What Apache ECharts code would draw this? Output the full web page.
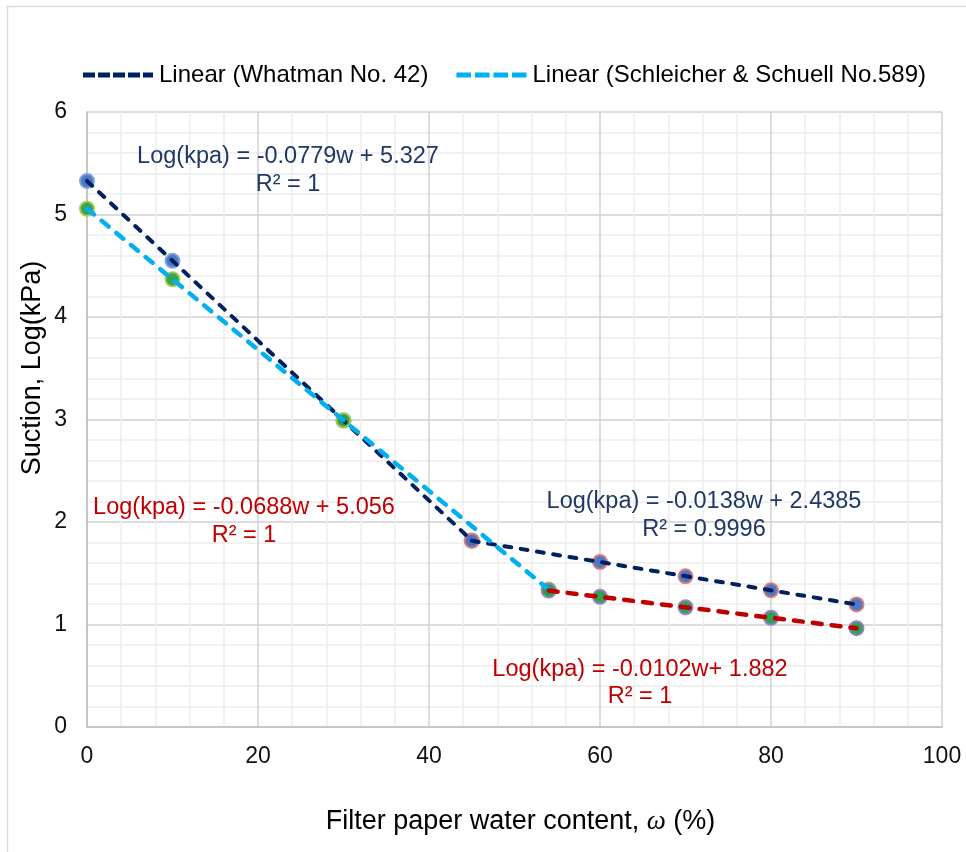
<!DOCTYPE html>
<html>
<head>
<meta charset="utf-8">
<script src="https://cdn.jsdelivr.net/npm/echarts@6/dist/echarts.min.js"></script>
<style>
  html, body { margin: 0; padding: 0; background: #fff; }
  #chart { width: 966px; height: 852px; }
</style>
</head>
<body>
<div id="chart"></div>
<script>
// Filter paper water content (%) and measured suction, log(kPa)
const whatmanDryW = [0, 10, 30, 45];
const whatmanDryS = [5.327, 4.548, 2.99, 1.82];
const whatmanWetW = [45, 60, 70, 80, 90];
const whatmanWetS = [1.817, 1.61, 1.47, 1.334, 1.196];

const schleicherDryW = [0, 10, 30, 54];
const schleicherDryS = [5.056, 4.368, 2.992, 1.341];
const schleicherWetW = [54, 60, 70, 80, 90];
const schleicherWetS = [1.331, 1.27, 1.168, 1.066, 0.964];

const xTicks = [0, 20, 40, 60, 80, 100];
const yTicks = [0, 1, 2, 3, 4, 5, 6];

const legendNames = ['Linear (Whatman No. 42)', 'Linear (Schleicher & Schuell No.589)'];
const yTitle = 'Suction, Log(kPa)';

const equations = [
  { text: 'Log(kpa) = -0.0779w + 5.327', r2: 'R² = 1', color: '#1F3864' },
  { text: 'Log(kpa) = -0.0688w + 5.056', r2: 'R² = 1', color: '#C00000' },
  { text: 'Log(kpa) = -0.0138w + 2.4385', r2: 'R² = 0.9996', color: '#1F3864' },
  { text: 'Log(kpa) = -0.0102w+ 1.882', r2: 'R² = 1', color: '#C00000' }
];

function pairs(xs, ys) { return xs.map((x, i) => [x, ys[i]]); }

// least-squares linear trendline over a segment, drawn between its end points
function trend(xs, ys) {
  const n = xs.length;
  const mx = xs.reduce((a, b) => a + b, 0) / n;
  const my = ys.reduce((a, b) => a + b, 0) / n;
  let sxy = 0, sxx = 0;
  for (let i = 0; i < n; i++) { sxy += (xs[i] - mx) * (ys[i] - my); sxx += (xs[i] - mx) ** 2; }
  const a = sxy / sxx, b = my - a * mx;
  const x0 = Math.min(...xs), x1 = Math.max(...xs);
  return [[x0, a * x0 + b], [x1, a * x1 + b]];
}

const FONT = 'Liberation Sans, Arial, sans-serif';

function trendSeries(name, xs, ys, color, width, dash, z) {
  return {
    name: name, type: 'line', data: trend(xs, ys), symbol: 'none', z: z,
    lineStyle: { color: color, width: width, type: dash, cap: 'round' },
    itemStyle: { color: color },
    emphasis: { disabled: true }, silent: true, animation: false
  };
}

function pointSeries(name, xs, ys, fill, border, z) {
  return {
    name: name, type: 'scatter', data: pairs(xs, ys), symbol: 'circle', symbolSize: 14, z: z,
    itemStyle: { color: fill, borderColor: border, borderWidth: 2, opacity: 0.95 },
    emphasis: { disabled: true }, silent: true, animation: false
  };
}

// dashed legend keys
const navyKey = 'path://M0,0H12V5H0Z M15,0H27V5H15Z M30,0H42V5H30Z M45,0H57V5H45Z M60,0H70V5H60Z';
const cyanKey = 'path://M0,0H15V5H0Z M19,0H34V5H19Z M38,0H53V5H38Z M57,0H72V5H57Z';

const chart = echarts.init(document.getElementById('chart'), null, { renderer: 'canvas' });

const eqPos = [
  [288, 157, 288, 185],
  [244, 508, 244, 536],
  [704, 502, 704, 530],
  [640, 670, 640, 697]
];
const eqGraphics = [];
equations.forEach((e, i) => {
  const p = eqPos[i];
  eqGraphics.push({ type: 'text', x: p[0], y: p[1], style: { text: e.text, fill: e.color, font: '23.5px ' + FONT, align: 'center', verticalAlign: 'middle' }, z: 100 });
  eqGraphics.push({ type: 'text', x: p[2], y: p[3], style: { text: e.r2, fill: e.color, font: '23.5px ' + FONT, align: 'center', verticalAlign: 'middle' }, z: 100 });
});

chart.setOption({
  backgroundColor: '#ffffff',
  animation: false,
  textStyle: { fontFamily: FONT },
  grid: { left: 87, right: 24, top: 112, bottom: 125, containLabel: false },
  legend: {
    data: [
      { name: legendNames[0], icon: navyKey, itemStyle: { color: '#002060' } },
      { name: legendNames[1], icon: cyanKey, itemStyle: { color: '#00B0F0' } }
    ],
    left: 78, top: 58,
    itemWidth: 70, itemHeight: 5, itemGap: 28,
    textStyle: { fontSize: 24, color: '#000', fontFamily: FONT, padding: [0, 0, 0, 1] },
    selectedMode: false
  },
  xAxis: {
    type: 'value', min: xTicks[0], max: xTicks[xTicks.length - 1], interval: 20,
    name: '{a|Filter paper water content, }{b|ω}{a| (%)}',
    nameLocation: 'middle', nameGap: 81,
    nameTextStyle: { padding: [0, 0, 0, 12], rich: { a: { fontSize: 27, color: '#000', fontFamily: FONT }, b: { fontSize: 27, color: '#000', fontStyle: 'italic', fontFamily: 'Liberation Serif, serif' } } },
    axisLine: { show: true, lineStyle: { color: '#BFBFBF', width: 1.5 } },
    axisTick: { show: false },
    axisLabel: { fontSize: 23, color: '#111', margin: 18 },
    splitLine: { show: true, lineStyle: { color: '#D0D0D0', width: 1.5 } },
    minorTick: { show: false, splitNumber: 5 },
    minorSplitLine: { show: true, lineStyle: { color: '#EDEDED', width: 1.5 } }
  },
  yAxis: {
    type: 'value', min: yTicks[0], max: yTicks[yTicks.length - 1], interval: 1,
    axisLine: { show: true, lineStyle: { color: '#BFBFBF', width: 1.5 } },
    axisTick: { show: false },
    axisLabel: { fontSize: 23, color: '#111', margin: 20 },
    splitLine: { show: true, lineStyle: { color: '#D0D0D0', width: 1.5 } },
    minorTick: { show: false, splitNumber: 5 },
    minorSplitLine: { show: true, lineStyle: { color: '#EDEDED', width: 1.5 } }
  },
  series: [
    pointSeries('Whatman points', whatmanDryW, whatmanDryS, '#4472C4', '#7FA0D8', 5),
    pointSeries('Whatman points wet', whatmanWetW, whatmanWetS, '#4472C4', '#E07A70', 5),
    pointSeries('Schleicher points', schleicherDryW, schleicherDryS, '#2E9E48', '#9CCB4A', 5),
    pointSeries('Schleicher points wet', schleicherWetW, schleicherWetS, '#1FA04A', '#9A7CC4', 5),
    trendSeries(legendNames[0], whatmanDryW, whatmanDryS, '#002060', 4, [7, 9.5], 10),
    trendSeries(legendNames[0], whatmanWetW, whatmanWetS, '#002060', 4, [7, 9.5], 10),
    trendSeries(legendNames[1], schleicherDryW, schleicherDryS, '#00B0F0', 4.5, [9, 10], 11),
    trendSeries('Linear (Schleicher wet)', schleicherWetW, schleicherWetS, '#C00000', 4.5, [9, 10], 11)
  ],
  graphic: [
    { type: 'rect', shape: { x: 7.5, y: 6.5, width: 980, height: 870 }, style: { fill: 'none', stroke: '#D9D9D9', lineWidth: 1.5 }, z: 0, silent: true },
    { type: 'text', x: 33, y: 368, rotation: Math.PI / 2, style: { text: yTitle, fill: '#000', font: '27px ' + FONT, align: 'center', verticalAlign: 'middle' }, z: 100 }
  ].concat(eqGraphics)
});
</script>
</body>
</html>
